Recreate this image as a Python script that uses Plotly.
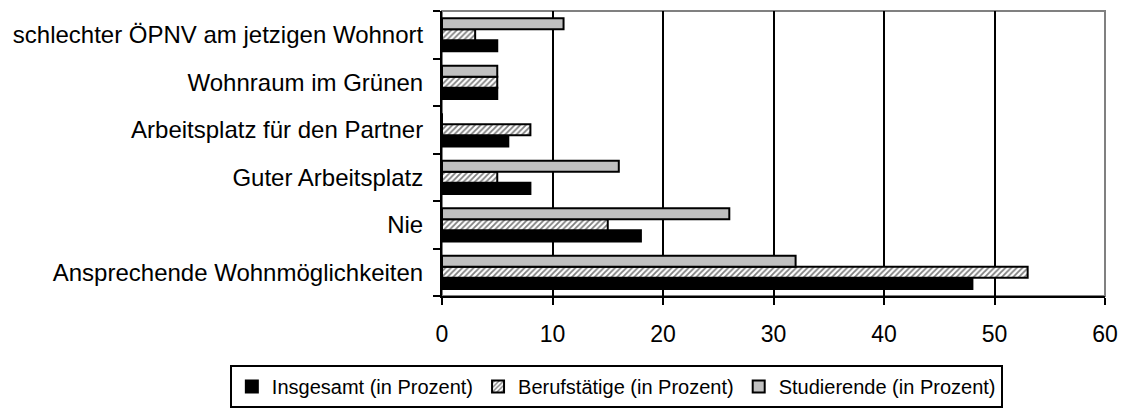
import plotly.graph_objects as go

categories = [
    "Ansprechende Wohnmöglichkeiten",
    "Nie",
    "Guter Arbeitsplatz",
    "Arbeitsplatz für den Partner",
    "Wohnraum im Grünen",
    "schlechter ÖPNV am jetzigen Wohnort",
]
insgesamt = [48, 18, 8, 6, 5, 5]
berufstaetige = [53, 15, 5, 8, 5, 3]
studierende = [32, 26, 16, 0, 5, 11]
x_ticks = [0, 10, 20, 30, 40, 50, 60]

FONT = "Liberation Sans, Arial, sans-serif"

fig = go.Figure()
fig.add_trace(go.Bar(
    y=categories, x=insgesamt, orientation="h", name="Insgesamt (in Prozent)",
    marker=dict(color="black", line=dict(color="black", width=2)),
))
fig.add_trace(go.Bar(
    y=categories, x=berufstaetige, orientation="h", name="Berufstätige (in Prozent)",
    marker=dict(color="white", line=dict(color="black", width=2),
                pattern=dict(shape="/", fgcolor="black", bgcolor="white", size=4, solidity=0.45)),
))
fig.add_trace(go.Bar(
    y=categories, x=studierende, orientation="h", name="Studierende (in Prozent)",
    marker=dict(color="#c0c0c0", line=dict(color="black", width=2)),
))

fig.update_layout(
    width=1123, height=411,
    margin=dict(l=442, r=18, t=11, b=115, autoexpand=False),
    paper_bgcolor="white", plot_bgcolor="white",
    font=dict(family=FONT, size=23, color="black"),
    barmode="group", bargap=0.3, bargroupgap=0,
    showlegend=True,
    legend=dict(
        orientation="h", x=-0.32, xanchor="left", y=-0.242, yanchor="top",
        bordercolor="black", borderwidth=2, bgcolor="white",
        font=dict(family=FONT, size=20), traceorder="normal",
        itemwidth=30, tracegroupgap=0,
    ),
    shapes=[dict(type="rect", xref="paper", yref="paper", x0=0, y0=0, x1=1, y1=1,
                 line=dict(color="#808080", width=2), layer="below")],
)
fig.update_xaxes(
    range=[0, 60], tickvals=x_ticks, showgrid=True, gridcolor="black", gridwidth=2,
    showline=True, linecolor="black", linewidth=2, ticks="outside", ticklen=7,
    tickwidth=2, tickcolor="black", zeroline=False, tickfont=dict(size=23),
    ticklabelstandoff=9, automargin=False,
)
fig.update_yaxes(
    categoryorder="array", categoryarray=categories, tickson="boundaries",
    showline=True, linecolor="black", linewidth=2, ticks="outside", ticklen=7,
    tickwidth=2, tickcolor="black", showgrid=False, tickfont=dict(size=24),
    ticklabelstandoff=12, automargin=False,
)

fig.write_html(
    "out.html",
    config={"displayModeBar": False},
    post_script=(
        "document.body.style.margin='0';"
        "document.body.style.overflow='hidden';"
        "document.documentElement.style.overflow='hidden';"
    ),
)
